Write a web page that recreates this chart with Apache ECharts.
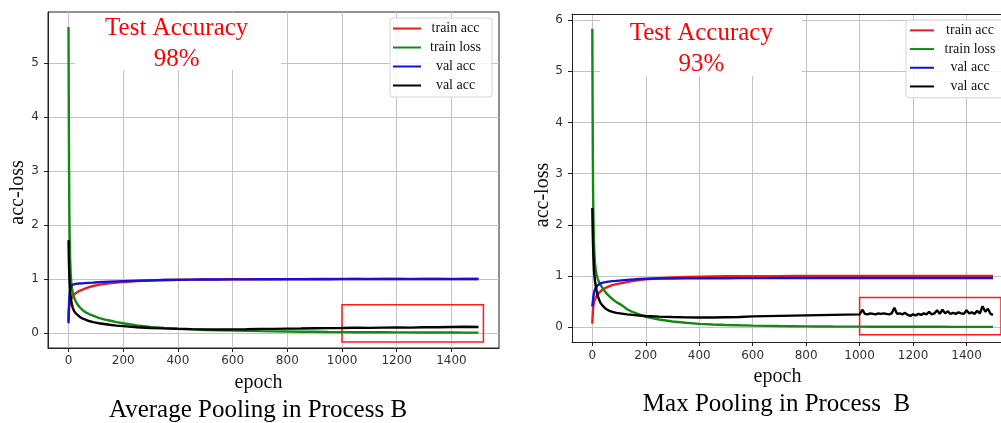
<!DOCTYPE html>
<html><head><meta charset="utf-8">
<script src="https://cdn.jsdelivr.net/npm/echarts@6/dist/echarts.min.js"></script>
<style>html,body{margin:0;padding:0;background:#fff}#c{width:1001px;height:423px}</style>
</head><body><div id="c"></div>
<script>
// ---------- data ----------
const epochs = [0,1,2,3,4,6,8,10,13,16,20,25,30,40,50,60,75,90,110,130,150,175,200,250,300,350,400,450,500,550,600,650,700,750,800,850,900,950,1000,1050,1100,1150,1200,1250,1300,1350,1400,1450,1499];

// Average pooling (left)
const avgTrainAcc = [0.22,0.38,0.45,0.5,0.53, 0.57,0.6,0.63,0.66,0.68, 0.71,0.73,0.75,0.78,0.8, 0.82,0.85,0.87,0.89,0.905, 0.92,0.935,0.945,0.96,0.972, 0.98,0.985,0.988,0.99,0.992, 0.994,0.995,0.996,0.996,0.997, 0.997,0.998,0.998,0.998,0.999, 0.998,0.999,0.999,0.998,0.999, 0.999,0.999,0.999,0.999];
const avgTrainLoss = [5.67,4.2,3.0,2.3,1.85, 1.35,1.1,0.95,0.82,0.74, 0.66,0.6,0.55,0.48,0.43, 0.39,0.35,0.32,0.28,0.25, 0.23,0.2,0.18,0.14,0.11, 0.09,0.075,0.065,0.055,0.048, 0.042,0.037,0.032,0.028,0.025, 0.022,0.02,0.017,0.015,0.013, 0.012,0.011,0.01,0.009,0.008, 0.007,0.007,0.006,0.006];
const avgValAcc = [0.18,0.4,0.55,0.65,0.72, 0.8,0.85,0.875,0.89,0.9, 0.905,0.908,0.91,0.915,0.918, 0.922,0.928,0.933,0.94,0.945, 0.95,0.955,0.96,0.968,0.974, 0.98,0.984,0.987,0.99,0.99, 0.992,0.993,0.995,0.994,0.996, 0.996,0.997,0.996,0.997,0.998, 0.997,0.998,0.998,0.997,0.998, 0.998,0.997,0.998,0.998];
const avgValLoss = [1.72,1.45,1.22,1.05,0.93, 0.77,0.66,0.59,0.51,0.46, 0.41,0.37,0.34,0.3,0.27, 0.25,0.22,0.2,0.18,0.165, 0.15,0.135,0.125,0.105,0.092, 0.083,0.076,0.07,0.066,0.064, 0.065,0.068,0.072,0.075,0.08, 0.082,0.085,0.088,0.09,0.095, 0.093,0.098,0.1,0.098,0.104, 0.106,0.11,0.113,0.11];

// Max pooling (right)
const maxTrainAcc = [0.07,0.2,0.3,0.37,0.42, 0.48,0.52,0.55,0.58,0.61, 0.64,0.67,0.7,0.74,0.77, 0.79,0.82,0.84,0.86,0.88, 0.9,0.92,0.935,0.955,0.97, 0.98,0.988,0.992,0.995,0.996, 0.997,0.998,0.998,0.999,0.999, 0.999,1.0,0.999,1.0,1.0, 1.0,0.999,1.0,1.0,1.0, 1.0,1.0,1.0,1.0];
const maxTrainLoss = [5.83,4.4,3.3,2.6,2.2, 1.7,1.42,1.25,1.12,1.03, 0.95,0.88,0.83,0.75,0.68, 0.62,0.55,0.49,0.43,0.35, 0.3,0.25,0.2,0.15,0.11, 0.085,0.065,0.052,0.043,0.036, 0.03,0.026,0.022,0.019,0.016, 0.014,0.012,0.011,0.01,0.009, 0.009,0.008,0.008,0.007,0.007, 0.006,0.006,0.006,0.005];
const maxValAcc = [0.4,0.45,0.5,0.55,0.6, 0.66,0.71,0.74,0.77,0.8, 0.82,0.84,0.855,0.87,0.88, 0.89,0.9,0.905,0.915,0.925, 0.93,0.94,0.945,0.95,0.952, 0.955,0.955,0.956,0.957,0.958, 0.958,0.959,0.96,0.96,0.961, 0.96,0.962,0.961,0.962,0.96, 0.962,0.961,0.963,0.962,0.961, 0.963,0.962,0.963,0.962];
const maxValLossEpochs = [0,1,2,3,4,6,8,10,13,16,20,25,30,40,50,60,75,90,110,130,150,175,200,250,300,350,400,450,500,550,600,650,700,750,800,850,900,950,
  1000,1010,1020,1030,1040,1050,1060,1070,1080,1090,1100,1110,1120,1130,1140,1150,1160,1170,1180,1190,1200,1210,1220,1230,1240,1250,
  1260,1270,1280,1290,1300,1310,1320,1330,1340,1350,1360,1370,1380,1390,1400,1410,1420,1430,1440,1450,1460,1470,1480,1490,1499];
const maxValLoss = [2.33,2.0,1.75,1.55,1.39, 1.15,1.0,0.9,0.8,0.72, 0.62,0.54,0.48,0.41,0.36, 0.33,0.3,0.28,0.265,0.25, 0.24,0.228,0.218,0.205,0.198, 0.192,0.19,0.19,0.195,0.2, 0.21,0.215,0.22,0.225,0.23, 0.235,0.24,0.245,
  0.25,0.34,0.26,0.25,0.27,0.26,0.25,0.27,0.26,0.27,
  0.26,0.25,0.27,0.38,0.26,0.27,0.25,0.28,0.24,0.22,
  0.25,0.23,0.26,0.24,0.27,0.25,0.3,0.25,0.27,0.33,
  0.26,0.34,0.27,0.31,0.26,0.28,0.26,0.29,0.27,0.26,
  0.33,0.27,0.29,0.26,0.32,0.27,0.41,0.3,0.36,0.26,
  0.24];

const xTickValues = [0,200,400,600,800,1000,1200,1400];
const avgYTicks = [0,1,2,3,4,5];
const maxYTicks = [0,1,2,3,4,5,6];
const seriesNames = ['train acc','train loss','val acc','val loss'];
const legendLabels = {'train acc':'train acc','train loss':'train loss','val acc':'val acc','val loss':'val acc'};
const zoomBoxAvg = [[1000, 0.52], [1517, -0.17]];
const zoomBoxMax = [[1000, 0.58], [1620, -0.15]];

// ---------- build ----------
const colors = ['#ee1c1c','#138a13','#1212e0','#000000'];
const serif = '"Liberation Serif","Times New Roman",serif';
const pairs = (xs, ys) => xs.map((x, i) => [x, ys[i]]);

function xAxisDef(gi, min, max, nameGap, namePad, margin) {
  return {
    gridIndex: gi, type: 'value', min: min, max: max,
    axisLine: {onZero: false, lineStyle: {color: '#222', width: 1}},
    axisTick: {customValues: xTickValues, length: 4, lineStyle: {color: '#222'}},
    axisLabel: {customValues: xTickValues, margin: margin, color: '#333', fontFamily: 'DejaVu Sans', fontSize: 12, formatter: v => String(v)},
    splitLine: {show: true, lineStyle: {color: '#c4c4c4', width: 1}},
    name: 'epoch', nameLocation: 'middle', nameGap: nameGap, nameMoveOverlap: false,
    nameTextStyle: {fontFamily: serif, fontSize: 20, color: '#111', padding: namePad}
  };
}
function topBorderAxis(gi, min, max) {
  return {
    gridIndex: gi, type: 'value', position: 'top', min: min, max: max,
    axisLine: {show: true, onZero: false, lineStyle: {color: '#222', width: 1}},
    axisTick: {show: false}, axisLabel: {show: false}, splitLine: {show: false}
  };
}
function yAxisDef(gi, min, max, ticks, nameGap, namePad) {
  return {
    gridIndex: gi, type: 'value', min: min, max: max,
    axisLine: {show: true, onZero: false, lineStyle: {color: '#222', width: 1}},
    axisTick: {show: true, customValues: ticks, length: 4, lineStyle: {color: '#222'}},
    axisLabel: {customValues: ticks, margin: 9, color: '#333', fontFamily: 'DejaVu Sans', fontSize: 12, formatter: v => String(v)},
    splitLine: {show: true, lineStyle: {color: '#c4c4c4', width: 1}},
    name: 'acc-loss', nameLocation: 'middle', nameGap: nameGap, nameMoveOverlap: false,
    nameTextStyle: {fontFamily: serif, fontSize: 20, color: '#111', padding: namePad}
  };
}
function lineSeries(gi, name, idx, xs, ys, box) {
  const s = {
    type: 'line', name: name, xAxisIndex: gi, yAxisIndex: gi,
    data: pairs(xs, ys), symbol: 'none', showSymbol: false,
    lineStyle: {color: colors[idx], width: 2.4}, itemStyle: {color: colors[idx]},
    z: 2 + idx
  };
  if (box) {
    s.clip = false;
    s.markArea = {silent: true, itemStyle: {color: 'rgba(0,0,0,0)', borderColor: '#ff1a1a', borderWidth: 1.5},
      data: [[{coord: box[0]}, {coord: box[1]}]]};
  }
  return s;
}
function legendDef(left, top, itemWidth, textWidth, lineHeight, padding) {
  return {
    orient: 'vertical', left: left, top: top, padding: padding,
    itemWidth: itemWidth, itemHeight: 2, itemGap: 0, icon: 'rect',
    backgroundColor: 'rgba(255,255,255,0.85)', borderColor: '#d4d4d4', borderWidth: 1, borderRadius: 3,
    data: seriesNames,
    formatter: n => '{c|' + legendLabels[n] + '}',
    textStyle: {color: '#111', fontFamily: serif, fontSize: 14, lineHeight: lineHeight,
      rich: {c: {width: textWidth, align: 'center', fontFamily: serif, fontSize: 14, color: '#111', lineHeight: lineHeight}}}
  };
}

const series = [
  lineSeries(0, 'train acc', 0, epochs, avgTrainAcc),
  lineSeries(0, 'train loss', 1, epochs, avgTrainLoss),
  lineSeries(0, 'val acc', 2, epochs, avgValAcc),
  lineSeries(0, 'val loss', 3, epochs, avgValLoss, zoomBoxAvg),
  lineSeries(1, 'train acc', 0, epochs, maxTrainAcc),
  lineSeries(1, 'train loss', 1, epochs, maxTrainLoss),
  lineSeries(1, 'val acc', 2, epochs, maxValAcc),
  lineSeries(1, 'val loss', 3, maxValLossEpochs, maxValLoss, zoomBoxMax)
];

function txt(x, y, text, size, color) {
  return {type: 'text', x: x, y: y, z: 101, silent: true,
    style: {text: text, textAlign: 'center', textVerticalAlign: 'middle', font: size + 'px ' + serif, fill: color}};
}

const option = {
  animation: false,
  backgroundColor: '#fff',
  grid: [
    {left: 48, top: 12, right: 502, bottom: 75, show: true, borderColor: '#222', borderWidth: 1, containLabel: false},
    {left: 572, top: 14, right: 0, bottom: 81, show: false, containLabel: false}
  ],
  xAxis: [
    xAxisDef(0, -75, 1574, 25, [0, 30, 0, 0], 7),
    xAxisDef(1, -76, 1529, 25, [0, 18, 0, 0], 8),
    topBorderAxis(1, -76, 1529)
  ],
  yAxis: [yAxisDef(0, -0.28, 5.95, avgYTicks, 20, [0, 25, 0, 0]), yAxisDef(1, -0.29, 6.12, maxYTicks, 19, [0, 34, 0, 0])],
  legend: [
    legendDef(390, 18, 28, 59, 19, [1, 7, 2, 3]),
    legendDef(906, 20, 24, 62, 18.7, [1, 8, 2, 4])
  ],
  series: series,
  graphic: [
    {type: 'rect', z: 100, silent: true, shape: {x: 75, y: 13, width: 206, height: 57}, style: {fill: '#fff'}},
    txt(176.7, 28.5, 'Test Accuracy', 25, '#ff0000'),
    txt(176.7, 59, '98%', 25, '#ff0000'),
    {type: 'rect', z: 100, silent: true, shape: {x: 600, y: 15, width: 202, height: 61}, style: {fill: '#fff'}},
    txt(701.3, 33, 'Test Accuracy', 25, '#ff0000'),
    txt(701.3, 64, '93%', 25, '#ff0000'),
    txt(258, 410, 'Average Pooling in Process B', 25, '#000'),
    txt(776.5, 404.5, 'Max Pooling in Process  B', 25, '#000')
  ]
};
const chart = echarts.init(document.getElementById('c'));
chart.setOption(option);
</script></body></html>
